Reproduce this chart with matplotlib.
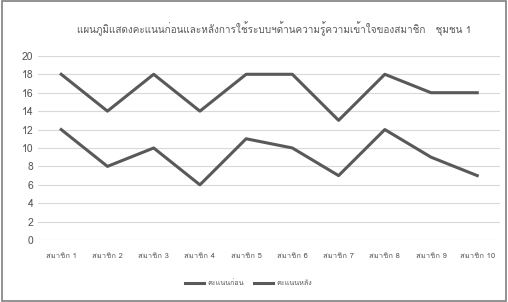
import matplotlib
matplotlib.use("Agg")
from matplotlib import pyplot as plt
from matplotlib import font_manager as fm
from matplotlib.ft2font import FT2Font

# Data
members = ["สมาชิก 1", "สมาชิก 2", "สมาชิก 3", "สมาชิก 4", "สมาชิก 5",
           "สมาชิก 6", "สมาชิก 7", "สมาชิก 8", "สมาชิก 9", "สมาชิก 10"]
before = [12, 8, 10, 6, 11, 10, 7, 12, 9, 7]
after = [18, 14, 18, 14, 18, 18, 13, 18, 16, 16]
yticks = [0, 2, 4, 6, 8, 10, 12, 14, 16, 18, 20]
title = "แผนภูมิแสดงคะแนนก่อนและหลังการใช้ระบบฯด้านความรู้ความเข้าใจของสมาชิก   ชุมชน 1"
series_names = ["คะแนนก่อน", "คะแนนหลัง"]

# Look for a font that has Thai glyphs
thai = None
for f in fm.fontManager.ttflist:
    try:
        if ord("ก") in FT2Font(f.fname).get_charmap():
            thai = f.name
            break
    except Exception:
        pass
fams = ([thai] if thai else []) + ["DejaVu Sans"]
plt.rcParams["font.family"] = fams

txt = "#595959"
fig = plt.figure(figsize=(5.08, 3.02), dpi=100)
ax = fig.add_axes([0.075, 0.205, 0.91, 0.61])

x = range(len(members))
ax.plot(x, before, color="#595959", linewidth=2.2, label=series_names[0])
ax.plot(x, after, color="#595959", linewidth=2.2, label=series_names[1])

ax.set_ylim(0, 20)
ax.set_xlim(-0.5, len(members) - 0.5)
ax.set_yticks(yticks)
ax.set_xticks(list(x))
ax.set_xticklabels(members)
ax.tick_params(axis="both", length=0, colors=txt)
ax.tick_params(axis="x", labelsize=5.5, pad=9)
ax.tick_params(axis="y", labelsize=7.5)
ax.grid(axis="y", color="#d9d9d9", linewidth=0.8)
ax.set_axisbelow(True)
for s in ax.spines.values():
    s.set_visible(False)

fig.text(0.54, 0.905, title, ha="center", va="center", fontsize=7.2, color=txt)
fig.legend(loc="center", bbox_to_anchor=(0.49, 0.06), ncol=2, frameon=False,
           fontsize=5.2, labelcolor=txt, handlelength=2.6, handletextpad=0.5,
           columnspacing=1.4)

# outer border
fig.patches.append(plt.Rectangle((0.004, 0.004), 0.992, 0.992, transform=fig.transFigure,
                                 fill=False, edgecolor="#7f7f7f", linewidth=1.2))

fig.savefig("out.png", dpi=100)
